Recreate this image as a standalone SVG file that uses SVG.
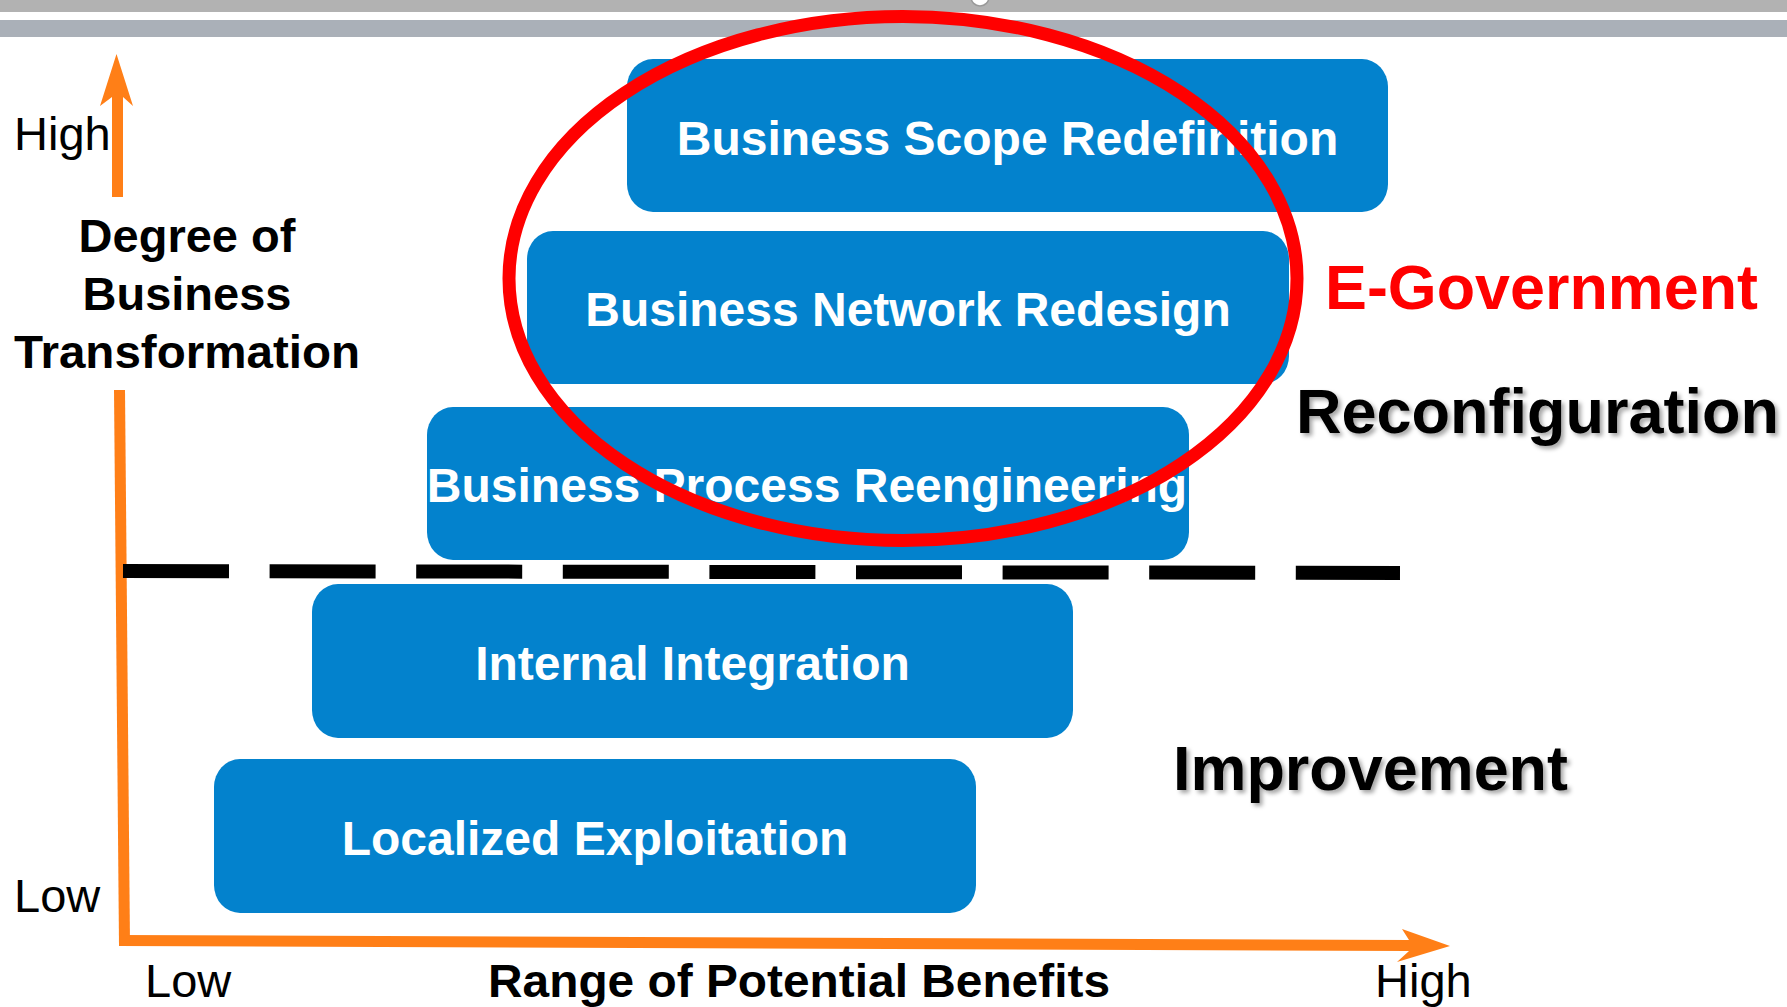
<svg xmlns="http://www.w3.org/2000/svg" width="1787" height="1007" viewBox="0 0 1787 1007">
<defs>
<style>
.box{fill:#0382CD;}
.bt{font-family:"Liberation Sans",Arial,sans-serif;font-weight:bold;font-size:48px;fill:#fff;text-anchor:middle;}
.lab{font-family:"Liberation Sans",Arial,sans-serif;font-size:47px;fill:#000;}
.labb{font-family:"Liberation Sans",Arial,sans-serif;font-size:47px;font-weight:bold;fill:#000;text-anchor:middle;}
.big{font-family:"Liberation Sans",Arial,sans-serif;font-size:63px;font-weight:bold;}
.axis{fill:#FF7F17;}
</style>
<filter id="shadow" x="-5%" y="-20%" width="115%" height="150%">
<feDropShadow dx="3" dy="3" stdDeviation="2" flood-color="#000" flood-opacity="0.35"/>
</filter>
</defs>
<rect width="1787" height="1007" fill="#fff"/>
<rect x="0" y="0" width="1787" height="12" fill="#B2B2B2"/>
<rect x="0" y="20" width="1787" height="17" fill="#AAB0B8"/>
<circle cx="980" cy="-3" r="9" fill="#fff" stroke="#999" stroke-width="1.5"/>

<g id="axes">
<polygon class="axis" points="112,197 112,97 100,106 116.5,54 133,106 123,97 123,197"/>
<polygon class="axis" points="114,390 125,390 130,946 119,946"/>
<polygon class="axis" points="119,935 1409,940 1402,929 1450,946 1397,962 1409,951 119,946"/>
</g>

<g id="axis-labels">
<text class="lab" x="14" y="150">High</text>
<text class="labb" x="187" y="252">Degree of</text>
<text class="labb" x="187" y="310">Business</text>
<text class="labb" x="187" y="368" textLength="346" lengthAdjust="spacingAndGlyphs">Transformation</text>
<text class="lab" x="14" y="912">Low</text>
<text class="lab" x="145" y="997">Low</text>
<text class="labb" x="799" y="997" textLength="622" lengthAdjust="spacingAndGlyphs">Range of Potential Benefits</text>
<text class="lab" x="1375" y="997">High</text>
</g>

<g id="divider">
<line x1="123" y1="571" x2="1400" y2="573" stroke="#000" stroke-width="14" stroke-dasharray="106 40.6"/>
</g>

<g id="node-scope">
<rect class="box" x="627" y="59" width="761" height="153" rx="26" ry="28"/>
<text class="bt" x="1007.5" y="155">Business Scope Redefinition</text>
</g>
<g id="node-network">
<rect class="box" x="527" y="231" width="762" height="153" rx="26" ry="28"/>
<text class="bt" x="908" y="326">Business Network Redesign</text>
</g>
<g id="node-bpr">
<rect class="box" x="427" y="407" width="762" height="153" rx="26" ry="28"/>
<text class="bt" x="807" y="502">Business Process Reengineering</text>
</g>
<g id="node-internal">
<rect class="box" x="312" y="584" width="761" height="154" rx="26" ry="28"/>
<text class="bt" x="692.5" y="680">Internal Integration</text>
</g>
<g id="node-local">
<rect class="box" x="214" y="759" width="762" height="154" rx="26" ry="28"/>
<text class="bt" x="595" y="855">Localized Exploitation</text>
</g>

<g id="egov-ellipse">
<ellipse cx="903" cy="278.5" rx="394" ry="262" fill="none" stroke="#FF0000" stroke-width="13"/>
</g>

<g id="region-labels">
<text class="big" x="1325" y="309" fill="#FF0000" textLength="433" lengthAdjust="spacingAndGlyphs">E-Government</text>
<text class="big" x="1296" y="433" fill="#000" filter="url(#shadow)" textLength="483" lengthAdjust="spacingAndGlyphs">Reconfiguration</text>
<text class="big" x="1173" y="790" fill="#000" filter="url(#shadow)" textLength="395" lengthAdjust="spacingAndGlyphs">Improvement</text>
</g>
</svg>
